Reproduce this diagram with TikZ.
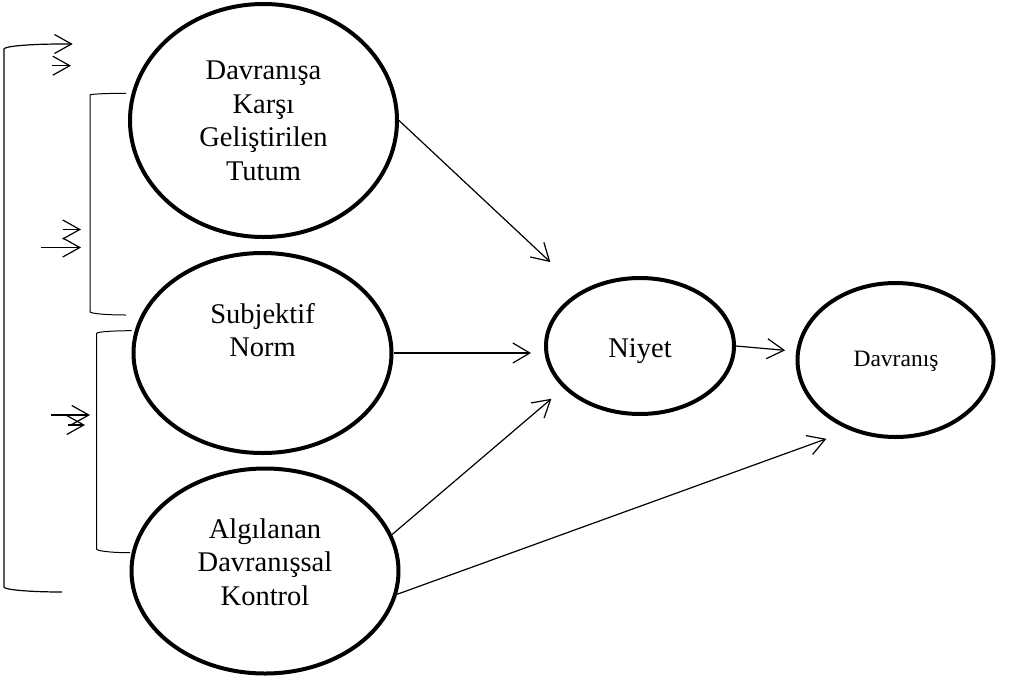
\documentclass[tikz,border=0pt]{standalone}
\usepackage{fontspec}
\setmainfont{Liberation Serif}
\usetikzlibrary{shapes.geometric,arrows.meta}
\begin{document}
\begin{tikzpicture}[x=1pt,y=-1pt,
  oval/.style={ellipse,draw,line width=4pt,inner sep=0pt},
  bigtext/.style={align=center,inner sep=0pt,font=\fontsize{28.5}{33.5}\selectfont},
  conn/.style={line width=1.2pt,-{Straight Barb[length=17pt,width=20pt]}},
  brk/.style={line width=1pt},
  brkarrow/.style={line width=1.2pt,-{Straight Barb[length=17pt,width=19pt]}}
]
\useasboundingbox (0,0) rectangle (1009,678);

% ovals of the model
\node[oval,minimum width=267pt,minimum height=233pt] (tutum) at (263.5,120.5) {};
\node[bigtext] (tutumtxt) at (263.5,121) {Davranışa\\Karşı\\Geliştirilen\\Tutum};
\node[oval,minimum width=258pt,minimum height=200pt] (norm) at (262.5,353) {};
\node[bigtext] (normtxt) at (262.5,330) {Subjektif\\Norm};
\node[oval,minimum width=267pt,minimum height=205pt] (kontrol) at (265,571) {};
\node[bigtext] (kontroltxt) at (265,562) {Algılanan\\Davranışsal\\Kontrol};
\node[oval,minimum width=188pt,minimum height=136pt] (niyet) at (640,346) {};
\node[anchor=base,inner sep=0pt,font=\fontsize{28.5}{33.5}\selectfont] (niyettxt) at (640,357) {Niyet};
\node[oval,minimum width=196pt,minimum height=154pt] (davranis) at (895.5,360) {};
\node[anchor=base,inner sep=0pt,font=\fontsize{23.5}{28}\selectfont] (davranistxt) at (896,366) {Davranış};

% connectors
\draw[conn,shorten >=42pt] (tutum.east) -- (niyet);
\draw[conn,shorten >=13pt] (norm.east) -- (norm.east -| niyet.west);
\draw[conn,shorten >=16pt] (kontrol.16) -- (niyet.209);
\draw[conn,shorten >=25pt] (kontrol.-10) -- (davranis.237);
\draw[conn,shorten >=11pt] (niyet.east) -- (davranis.175);

% outer bracket with its feedback arrows
\coordinate (outerlow) at (62,592);
\coordinate (outertip) at (72.7,44);
\draw[brkarrow] (outerlow) arc[start angle=270,end angle=180,x radius=58pt,y radius=5pt]
  -- (4,49) arc[start angle=180,end angle=90,x radius=58pt,y radius=5pt] -- (outertip);
\coordinate (outerB0) at (52,65.7);
\coordinate (outerB1) at (71,65.7);
\draw[brkarrow] (outerB0) -- (outerB1);

% middle bracket
\coordinate (midlow) at (126,315);
\draw[brk] (midlow) arc[start angle=270,end angle=180,x radius=36pt,y radius=3.3pt]
  -- (90,95) arc[start angle=180,end angle=90,x radius=36pt,y radius=1.7pt];
\coordinate (midA0) at (63,229.5);
\coordinate (midA1) at (81,229.5);
\coordinate (midB0) at (41,247.5);
\coordinate (midB1) at (81,247.5);
\draw[brkarrow] (midA0) -- (midA1);
\draw[brkarrow] (midB0) -- (midB1);

% lower bracket
\coordinate (lowlow) at (130,552.7);
\draw[brk] (lowlow) arc[start angle=270,end angle=180,x radius=33.3pt,y radius=3.7pt]
  -- (96.7,333.3) arc[start angle=180,end angle=90,x radius=35pt,y radius=2.6pt];
\coordinate (lowA0) at (51,415);
\coordinate (lowA1) at (90,415);
\coordinate (lowB0) at (68,425);
\coordinate (lowB1) at (85,425);
\draw[brkarrow] (lowA0) -- (lowA1);
\draw[brkarrow] (lowB0) -- (lowB1);
\end{tikzpicture}
\end{document}
